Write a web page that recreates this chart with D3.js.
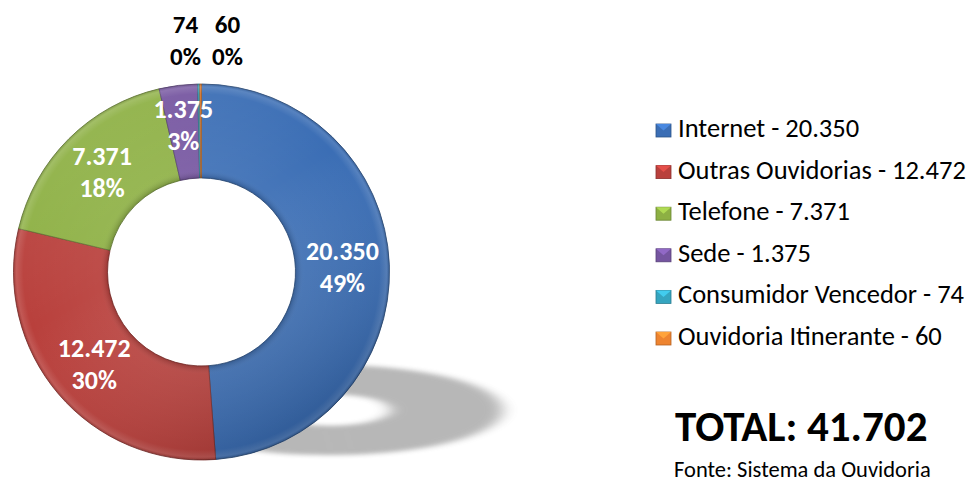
<!DOCTYPE html>
<html>
<head>
<meta charset="utf-8">
<script src="https://cdn.jsdelivr.net/npm/d3@7"></script>
<style>
  body { margin: 0; background: #fff; }
  text { font-family: Calibri, Lato, "Open Sans", sans-serif; }
</style>
</head>
<body>
<div id="chart"></div>
<script>
const categories = ["Internet", "Outras Ouvidorias", "Telefone", "Sede", "Consumidor Vencedor", "Ouvidoria Itinerante"];
const values = [20350, 12472, 7371, 1375, 74, 60];
const colors = ["#3b6eb5", "#b9403c", "#8db043", "#7555a0", "#35a5c0", "#ee8430"];
const sourceNote = "Fonte: Sistema da Ouvidoria";

const width = 970, height = 483;
const cx = 201.5, cy = 272, outerR = 188, innerR = 94;

const ptBR = d3.formatLocale({ decimal: ",", thousands: ".", grouping: [3], currency: ["R$", ""] });
const fmt = ptBR.format(",d");
const total = d3.sum(values);
const data = categories.map((c, i) => ({ name: c, value: values[i], color: colors[i] }));

const svg = d3.select("#chart").append("svg")
    .attr("width", width)
    .attr("height", height);

const defs = svg.append("defs");
defs.append("filter").attr("id", "shadowBlur")
    .attr("x", "-50%").attr("y", "-50%").attr("width", "200%").attr("height", "200%")
  .append("feGaussianBlur").attr("stdDeviation", 8);

// soft light overlay, lighter top-left, darker bottom-right
const lg = defs.append("linearGradient").attr("id", "shade")
    .attr("x1", "0").attr("y1", "0").attr("x2", "0.6").attr("y2", "1");
lg.append("stop").attr("offset", "0").attr("stop-color", "#fff").attr("stop-opacity", 0.12);
lg.append("stop").attr("offset", "0.5").attr("stop-color", "#fff").attr("stop-opacity", 0);
lg.append("stop").attr("offset", "1").attr("stop-color", "#000").attr("stop-opacity", 0.15);

// bevel rim: darker near edges of the ring
const rg = defs.append("radialGradient").attr("id", "rim")
    .attr("gradientUnits", "userSpaceOnUse")
    .attr("cx", 0).attr("cy", 0).attr("r", outerR);
rg.append("stop").attr("offset", innerR / outerR).attr("stop-color", "#000").attr("stop-opacity", 0.18);
rg.append("stop").attr("offset", (innerR + 8) / outerR).attr("stop-color", "#fff").attr("stop-opacity", 0.06);
rg.append("stop").attr("offset", (outerR - 10) / outerR).attr("stop-color", "#fff").attr("stop-opacity", 0);
rg.append("stop").attr("offset", (outerR - 3) / outerR).attr("stop-color", "#fff").attr("stop-opacity", 0.12);
rg.append("stop").attr("offset", 1).attr("stop-color", "#000").attr("stop-opacity", 0.15);

const pie = d3.pie().sort(null).value(d => d.value);
const arcs = pie(data);
const arc = d3.arc().innerRadius(innerR).outerRadius(outerR);
const labelArc = d3.arc().innerRadius(141).outerRadius(141);

// floor shadow
svg.append("g")
    .attr("transform", `translate(${cx + 128},${cy + 138}) scale(0.92,0.24)`)
    .attr("filter", "url(#shadowBlur)")
    .attr("opacity", 0.42)
  .selectAll("path")
  .data(arcs)
  .join("path")
    .attr("d", d3.arc().innerRadius(innerR * 0.7).outerRadius(outerR))
    .attr("fill", "#555");

const g = svg.append("g").attr("transform", `translate(${cx},${cy})`);

g.selectAll("path.slice")
  .data(arcs)
  .join("path")
    .attr("class", "slice")
    .attr("d", arc)
    .attr("fill", d => d.data.color)
    .attr("stroke", d => d3.color(d.data.color).darker(1.2))
    .attr("stroke-width", 0.8);

g.append("path")
    .attr("d", d3.arc().innerRadius(innerR).outerRadius(outerR)({ startAngle: 0, endAngle: 2 * Math.PI }))
    .attr("fill", "url(#rim)")
    .attr("pointer-events", "none");
g.append("path")
    .attr("d", d3.arc().innerRadius(innerR).outerRadius(outerR)({ startAngle: 0, endAngle: 2 * Math.PI }))
    .attr("fill", "url(#shade)")
    .attr("pointer-events", "none");

// labels inside the ring (narrow slices sit a bit further out)
const big = arcs.filter(d => d.value / total >= 0.02);
const small = arcs.filter(d => d.value / total < 0.02);
const wideLabelArc = d3.arc().innerRadius(148).outerRadius(148);

const inLab = g.selectAll("text.in")
  .data(big)
  .join("text")
    .attr("class", "in")
    .attr("text-anchor", "middle")
    .attr("transform", d => `translate(${(d.value / total < 0.05 ? wideLabelArc : labelArc).centroid(d)})`)
    .attr("fill", "#fff")
    .attr("font-weight", "bold")
    .attr("font-size", 26);
inLab.append("tspan").attr("x", 0).attr("y", -7).text(d => fmt(d.value));
inLab.append("tspan").attr("x", 0).attr("y", 25).text(d => Math.round(d.value / total * 100) + "%");

// tiny slices: labels above the ring
const outArc = d3.arc().innerRadius(232).outerRadius(232);
const outLab = g.selectAll("text.out")
  .data(small)
  .join("text")
    .attr("class", "out")
    .attr("text-anchor", "middle")
    .attr("transform", (d, i) => {
      const [x, y] = outArc.centroid(d);
      return `translate(${(i - 0.5) * 42 + 5},${y})`;
    })
    .attr("fill", "#000")
    .attr("font-weight", "bold")
    .attr("font-size", 25);
outLab.append("tspan").attr("x", 0).attr("y", -7).text(d => fmt(d.value));
outLab.append("tspan").attr("x", 0).attr("y", 25).text(d => Math.round(d.value / total * 100) + "%");

// legend
const legend = svg.append("g").attr("transform", "translate(656,0)");
const item = legend.selectAll("g")
  .data(data)
  .join("g")
    .attr("transform", (d, i) => `translate(0,${137 + i * 41.6})`);
item.append("rect")
    .attr("x", 0).attr("y", -13)
    .attr("width", 15).attr("height", 13)
    .attr("fill", d => d.color)
    .attr("stroke", d => d3.color(d.color).darker(0.8))
    .attr("stroke-width", 0.8);
item.append("path")
    .attr("d", "M0,-13 L7.5,-6.5 L15,-13 Z")
    .attr("fill", d => d3.color(d.color).brighter(0.6));
item.append("text")
    .attr("x", 22).attr("y", 0)
    .attr("font-size", 26.5)
    .attr("fill", "#000")
    .text(d => `${d.name} - ${fmt(d.value)}`);

svg.append("text")
    .attr("x", 675).attr("y", 441)
    .attr("font-size", 43)
    .attr("font-weight", "bold")
    .attr("fill", "#000")
    .text(`TOTAL: ${fmt(total)}`);

svg.append("text")
    .attr("x", 674).attr("y", 477)
    .attr("font-size", 22.5)
    .attr("fill", "#000")
    .text(sourceNote);
</script>
</body>
</html>
